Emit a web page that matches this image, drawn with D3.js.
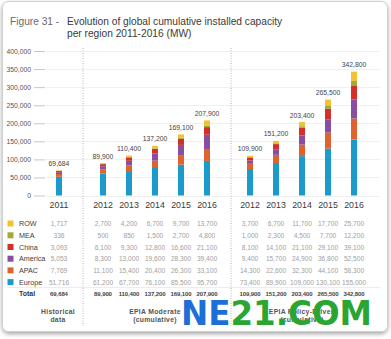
<!DOCTYPE html>
<html>
<head>
<meta charset="utf-8">
<script src="https://cdn.jsdelivr.net/npm/d3@7"></script>
<style>
  body { margin: 0; background: #fff; }
  svg { display: block; font-family: "Liberation Sans", Arial, sans-serif; }
</style>
</head>
<body>
<div class="container"></div>
<script>
// data
const regions = ["Europe", "APAC", "America", "China", "MEA", "ROW"]
const colors = ["#1a9bca", "#e0622d", "#8a4e9f", "#d2302b", "#a6a83c", "#f1c232"]
const histYears = ["2011"]
const scenYears = ["2012", "2013", "2014", "2015", "2016"]

const histData = {
  Europe: [51716], APAC: [7769], America: [5053], China: [3093], MEA: [336], ROW: [1717]
}
const moderateData = {
  Europe: [61200, 67700, 76100, 85500, 95700],
  APAC: [11100, 15400, 20400, 26300, 33100],
  America: [8300, 13000, 19600, 28300, 39400],
  China: [6100, 9300, 12800, 16600, 21100],
  MEA: [500, 850, 1500, 2700, 4800],
  ROW: [2700, 4200, 6700, 9700, 13700]
}
const policyData = {
  Europe: [73400, 89900, 109000, 130100, 155000],
  APAC: [14300, 22600, 32300, 44100, 58300],
  America: [9400, 15700, 24900, 36800, 52500],
  China: [8100, 14100, 21100, 29100, 39100],
  MEA: [1000, 2300, 4500, 7700, 12200],
  ROW: [3700, 6700, 11700, 17700, 25700]
}
const histTotal = [69684]
const moderateTotal = [89900, 110400, 137200, 169100, 207900]
const policyTotal = [109900, 151200, 203400, 265500, 342800]
const yTicks = [0, 50000, 100000, 150000, 200000, 250000, 300000, 350000, 400000]

const w = 391
const h = 339

const svg = d3.select(".container")
  .append("svg")
  .attr("width", w)
  .attr("height", h)

const defs = svg.append("defs")
const shadow = defs.append("filter").attr("id", "shadow")
  .attr("x", "-5%").attr("y", "-5%").attr("width", "110%").attr("height", "115%")
shadow.append("feDropShadow")
  .attr("dx", 0).attr("dy", 2).attr("stdDeviation", 2)
  .attr("flood-color", "#000").attr("flood-opacity", 0.35)

svg.append("rect")
  .attr("x", 2.5).attr("y", 1.5)
  .attr("width", 385).attr("height", 330)
  .attr("rx", 6)
  .attr("fill", "#fff")
  .attr("stroke", "#cfcfcf")
  .attr("filter", "url(#shadow)")

// title
const title = svg.append("g").attr("font-size", 10.2)
title.append("text").attr("x", 10).attr("y", 25).attr("fill", "#6a6a6a").text("Figure 31 -")
title.append("text").attr("x", 67).attr("y", 25).attr("fill", "#3a3a3a")
  .text("Evolution of global cumulative installed capacity")
title.append("text").attr("x", 67).attr("y", 37).attr("fill", "#3a3a3a")
  .text("per region 2011-2016 (MW)")

// scales
const y = d3.scaleLinear().domain([0, 400000]).range([195.5, 51])
const color = d3.scaleOrdinal().domain(regions).range(colors)
const groups = [
  { name: "hist", years: histYears, data: histData, total: histTotal,
    x: d3.scalePoint().domain(histYears).range([59, 59]) },
  { name: "mod", years: scenYears, data: moderateData, total: moderateTotal,
    x: d3.scalePoint().domain(scenYears).range([103, 207]) },
  { name: "pol", years: scenYears, data: policyData, total: policyTotal,
    x: d3.scalePoint().domain(scenYears).range([250, 354]) }
]

// grid + y axis
const grid = svg.append("g")
grid.selectAll("line.grid")
  .data(yTicks)
  .enter()
  .append("line")
  .attr("x1", 46).attr("x2", 380)
  .attr("y1", d => Math.round(y(d)) + 0.5)
  .attr("y2", d => Math.round(y(d)) + 0.5)
  .attr("stroke", "#f0f0f0")

const yAxis = svg.append("g")
  .attr("transform", "translate(45,0)")
  .call(d3.axisLeft(y).tickValues(yTicks).tickFormat(d3.format(",")).tickSize(11).tickPadding(3))
yAxis.select(".domain").remove()
yAxis.selectAll(".tick line").attr("stroke", "#c8c8c8")
yAxis.selectAll(".tick text")
  .attr("fill", "#555")
  .attr("font-size", 6.8)
  .attr("font-family", "Liberation Sans, Arial, sans-serif")

// separators
svg.selectAll("line.sep")
  .data([83, 231])
  .enter()
  .append("line")
  .attr("x1", d => d).attr("x2", d => d)
  .attr("y1", 48).attr("y2", 326)
  .attr("stroke", "#b5b5b5")
  .attr("stroke-dasharray", "1,1.5")

const barW = 6
const rowY = [223.5, 235.3, 247, 258.7, 270.4, 282.1]
const rowNames = ["ROW", "MEA", "China", "America", "APAC", "Europe"]
const totalY = 293

// table labels
const legendItem = svg.selectAll(".legend-item")
  .data(rowNames)
  .enter()
  .append("g")
  .attr("transform", (d, i) => `translate(0,${rowY[i]})`)

legendItem.append("rect")
  .attr("x", 7.5).attr("y", -3)
  .attr("width", 6).attr("height", 6)
  .attr("fill", d => color(d))

legendItem.append("text")
  .attr("x", 19).attr("y", 2.5)
  .attr("font-size", 7.2)
  .attr("fill", "#3d3d3d")
  .text(d => d)

svg.append("text")
  .attr("x", 19).attr("y", totalY + 2.5)
  .attr("font-size", 7)
  .attr("font-weight", "bold")
  .attr("fill", "#333")
  .text("Total")

svg.append("line")
  .attr("x1", 7).attr("x2", 380)
  .attr("y1", 287.5).attr("y2", 287.5)
  .attr("stroke", "#ececec")

const fmt = d3.format(",")

groups.forEach(g => {
  const stack = d3.stack().keys(regions)(g.years.map((yr, i) => {
    const row = { year: yr }
    regions.forEach(r => { row[r] = g.data[r][i] })
    return row
  }))

  svg.append("g")
    .selectAll("g")
    .data(stack)
    .enter()
    .append("g")
    .attr("fill", d => color(d.key))
    .selectAll("rect")
    .data(d => d)
    .enter()
    .append("rect")
    .attr("x", d => g.x(d.data.year) - barW / 2)
    .attr("width", barW)
    .attr("y", d => y(d[1]))
    .attr("height", d => y(d[0]) - y(d[1]))

  // total labels above bars
  svg.append("g")
    .selectAll("text")
    .data(g.years)
    .enter()
    .append("text")
    .attr("x", d => g.x(d))
    .attr("y", (d, i) => y(g.total[i]) - 4.5)
    .attr("text-anchor", "middle")
    .attr("font-size", 6.8)
    .attr("fill", "#444")
    .text((d, i) => fmt(g.total[i]))

  // year labels
  svg.append("g")
    .selectAll("text")
    .data(g.years)
    .enter()
    .append("text")
    .attr("x", d => g.x(d))
    .attr("y", 207.5)
    .attr("text-anchor", "middle")
    .attr("font-size", 8.8)
    .attr("fill", "#3a3a3a")
    .text(d => d)

  // table values
  rowNames.forEach((r, ri) => {
    svg.append("g")
      .selectAll("text")
      .data(g.years)
      .enter()
      .append("text")
      .attr("x", d => g.x(d))
      .attr("y", rowY[ri] + 2.5)
      .attr("text-anchor", "middle")
      .attr("font-size", 6.6)
      .attr("fill", "#a0a0a0")
      .text((d, i) => fmt(g.data[r][i]))
  })

  svg.append("g")
    .selectAll("text")
    .data(g.years)
    .enter()
    .append("text")
    .attr("x", d => g.x(d))
    .attr("y", totalY + 2.5)
    .attr("text-anchor", "middle")
    .attr("font-size", 6)
    .attr("font-weight", "bold")
    .attr("letter-spacing", -0.1)
    .attr("fill", "#444")
    .text((d, i) => fmt(g.total[i]))
})

// footer group names
const footers = [
  { x: 58, lines: ["Historical", "data"] },
  { x: 155, lines: ["EPIA Moderate", "(cumulative)"] },
  { x: 302, lines: ["EPIA Policy-Driven", "(cumulative)"] }
]
footers.forEach(f => {
  svg.append("text")
    .attr("x", f.x).attr("y", 313.5)
    .attr("text-anchor", "middle")
    .attr("font-size", 6.8)
    .attr("font-weight", "bold")
    .attr("letter-spacing", 0.3)
    .attr("fill", "#555")
    .selectAll("tspan")
    .data(f.lines)
    .enter()
    .append("tspan")
    .attr("x", f.x)
    .attr("dy", (d, i) => i === 0 ? 0 : 8)
    .text(d => d)
})

// watermark
const wm = svg.append("text")
  .attr("x", 181).attr("y", 325)
  .attr("font-family", "DejaVu Sans, sans-serif")
  .attr("font-weight", "bold")
  .attr("font-size", 34)
  .attr("textLength", 191)
  .attr("lengthAdjust", "spacingAndGlyphs")
wm.append("tspan").attr("fill", "#1c6fd6").text("NE")
wm.append("tspan").attr("fill", "#2aa532").text("21.COM")
</script>
</body>
</html>
